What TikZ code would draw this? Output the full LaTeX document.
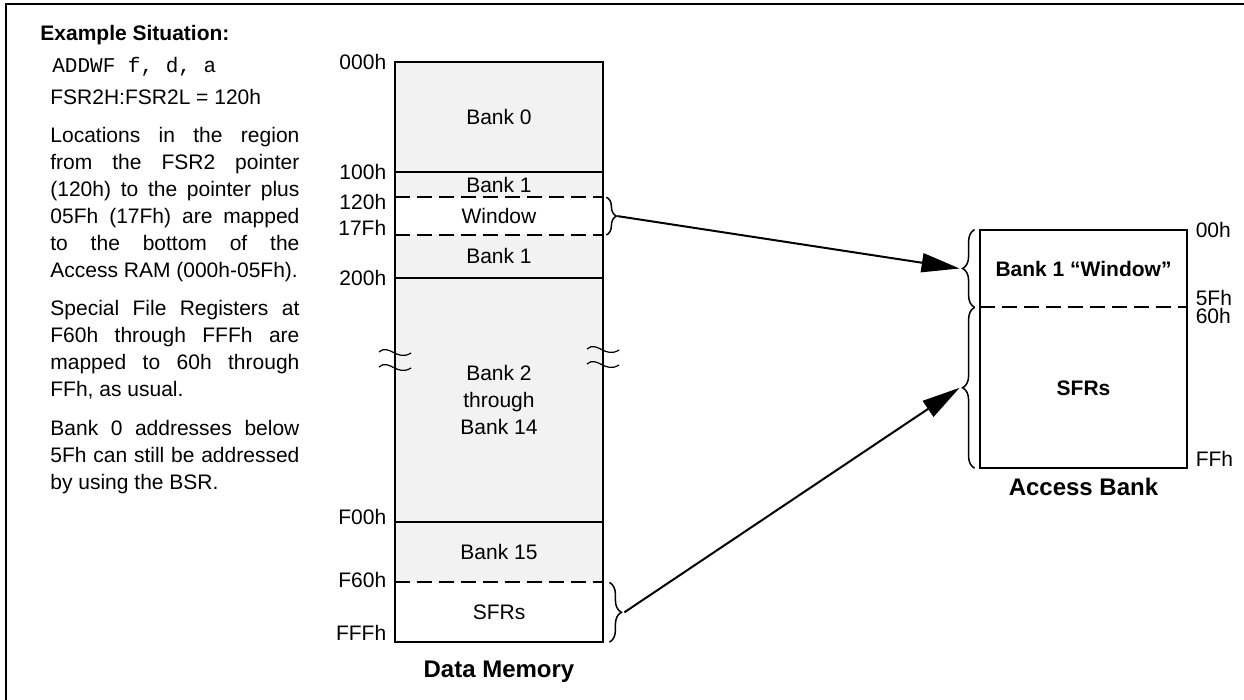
\documentclass[tikz,border=0pt]{standalone}
\usepackage{fontspec}
\setmainfont{Liberation Sans}
\setmonofont{Liberation Mono}
\usepackage{xcolor}
\usepackage{tikz}
\usetikzlibrary{arrows.meta,positioning,decorations.pathreplacing}
\definecolor{Mgray}{RGB}{242,242,242}
\newcommand{\figfont}{\fontsize{10.5}{13.5}\selectfont}
\hyphenpenalty=10000
\tolerance=9999
\tikzset{
  flow/.style={-{Triangle[length=19pt, width=9.5pt]}, line width=1pt},
  band/.style={fill=Mgray, minimum width=104pt, inner sep=0pt, align=center, font=\figfont},
  wband/.style={band, fill=white},
  rim/.style={line width=1pt},
  dashsep/.style={line width=1pt, dash pattern=on 7.5pt off 3.5pt},
  addr/.style={inner sep=0pt, font=\figfont},
  hdr/.style={inner sep=0pt, font=\figfont\bfseries},
  ttl/.style={inner sep=0pt, font=\fontsize{12}{14}\selectfont\bfseries},
  note/.style={inner sep=0pt, anchor=north west, text width=124.5pt, align=justify, font=\figfont},
  rbrace/.style={decorate, decoration={brace, amplitude=5pt}, line width=0.75pt},
  brk/.style={line width=0.6pt}
}
\begin{document}
\begin{tikzpicture}[x=0.5pt, y=-0.5pt]
  \useasboundingbox (0,0) rectangle (1244,700);
  \draw[line width=1.2pt] (6,700) -- (6,4) -- (1244,4);

  % example text
  \node[hdr, anchor=base west] (sit) at (40,40.5) {Example Situation:};
  \node[addr, anchor=base west] (instr) at (52,73) {\ttfamily ADDWF f, d, a};
  \node[addr, anchor=base west] (fsr) at (50,104.5) {FSR2H:FSR2L = 120h};
  \node[note] (locs) at (50,127) {Locations in the region\linebreak
    from the FSR2 pointer\linebreak (120h) to the pointer plus\linebreak
    05Fh (17Fh) are mapped\linebreak to the bottom of the\linebreak
    Access RAM (000h-05Fh).};
  \node[note] (sfrnote) at (50,300) {Special File Registers at\linebreak
    F60h through FFFh are\linebreak mapped to 60h through\linebreak
    FFh, as usual.};
  \node[note] (banknote) at (50,420) {Bank 0 addresses below\linebreak
    5Fh can still be addressed\linebreak by using the BSR.};

  % data memory
  \node[band, minimum height=55pt] (b0) at (499,117) {Bank 0};
  \node[band, below=0pt of b0, minimum height=12pt] (b1a) {Bank 1};
  \node[wband, below=0pt of b1a, minimum height=18.5pt] (win) {Window};
  \node[band, below=0pt of win, minimum height=21pt] (b1b) {Bank 1};
  \node[band, below=0pt of b1b, minimum height=121.5pt] (bmid) {Bank 2\\through\\Bank 14};
  \node[band, below=0pt of bmid, minimum height=30pt] (b15) {Bank 15};
  \node[wband, below=0pt of b15, minimum height=29.5pt] (sfr) {SFRs};

  \draw[rim] (b0.north west) rectangle (sfr.south east);
  \draw[rim] (b0.south west) -- (b0.south east);
  \draw[rim] (b1b.south west) -- (b1b.south east);
  \draw[rim] (bmid.south west) -- (bmid.south east);
  \draw[dashsep] (win.north west) -- (win.north east);
  \draw[dashsep] (win.south west) -- (win.south east);
  \draw[dashsep] (sfr.north west) -- (sfr.north east);

  \node[addr, left=4pt of b0.north west] {000h};
  \node[addr, left=4pt of b0.south west] {100h};
  \node[addr, left=4pt of win.north west, yshift=-2.5pt] {120h};
  \node[addr, left=4pt of win.south west, yshift=3.5pt] {17Fh};
  \node[addr, left=4pt of b1b.south west] {200h};
  \node[addr, left=4pt of bmid.south west, yshift=2.5pt] {F00h};
  \node[addr, left=4pt of sfr.north west, yshift=1pt] {F60h};
  \node[addr, left=4pt of sfr.south west, yshift=4.5pt] {FFFh};
  \node[ttl, below=9.25pt of sfr.south] (dmem) {Data Memory};

  % break marks
  \draw[brk] (379,352) .. controls (389,343) and (397,362) .. (411,353);
  \draw[brk] (379,367) .. controls (389,358) and (397,377) .. (411,368);
  \draw[brk] (587,349) .. controls (597,340) and (605,359) .. (619,350);
  \draw[brk] (587,364) .. controls (597,355) and (605,374) .. (619,365);

  % access bank
  \node[wband, font=\figfont\bfseries, minimum width=103.5pt, minimum height=38.5pt] (awin) at (1083.5,268.5) {Bank 1 “Window”};
  \node[wband, font=\figfont\bfseries, minimum width=103.5pt, minimum height=80pt, below=0pt of awin] (asfr) {SFRs};
  \draw[rim] (awin.north west) rectangle (asfr.south east);
  \draw[dashsep] (awin.south west) -- (awin.south east);
  \node[addr, right=4pt of awin.north east] {00h};
  \node[addr, right=4pt of awin.south east, yshift=4.5pt] {5Fh};
  \node[addr, right=4pt of awin.south east, yshift=-4.5pt] {60h};
  \node[addr, right=4pt of asfr.south east, yshift=4.5pt] {FFh};
  \node[ttl, below=4.75pt of asfr.south] (abank) {Access Bank};

  % braces
  \draw[rbrace] ([xshift=1.5pt]win.north east) -- ([xshift=1.5pt]win.south east);
  \draw[rbrace, decoration={amplitude=6pt}] ([xshift=3pt]sfr.north east) -- ([xshift=3pt]sfr.south east);
  \draw[rbrace, decoration={amplitude=6pt}] ([xshift=-2.5pt]awin.south west) -- ([xshift=-2.5pt]awin.north west);
  \draw[rbrace, decoration={amplitude=6pt}] ([xshift=-2.5pt]asfr.south west) -- ([xshift=-2.5pt]asfr.north west);
  \coordinate (wintip) at ([xshift=7pt]win.east);
  \coordinate (sfrtip) at ([xshift=10.5pt]sfr.east);
  \coordinate (awintip) at ([xshift=-10pt]awin.west);
  \coordinate (asfrtip) at ([xshift=-10pt]asfr.west);

  \draw[flow] (wintip) -- (awintip);
  \draw[flow] (sfrtip) -- (asfrtip);
\end{tikzpicture}
\end{document}
